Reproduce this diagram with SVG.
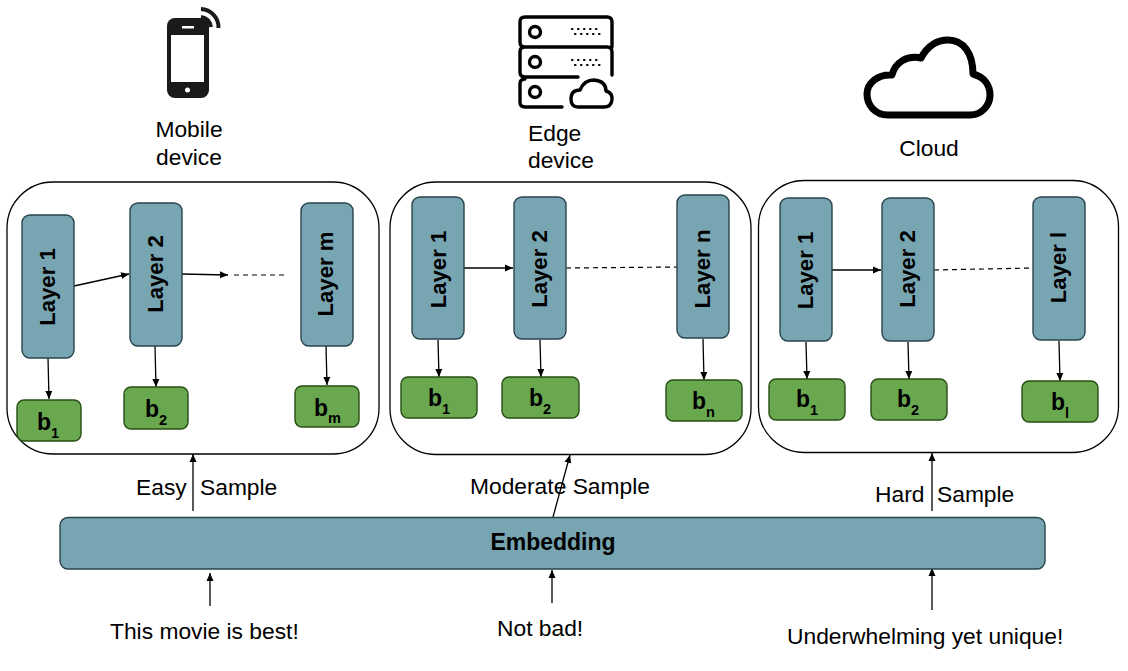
<svg xmlns="http://www.w3.org/2000/svg" width="1128" height="671" viewBox="0 0 1128 671">
<defs>
<marker id="a" markerWidth="9" markerHeight="8" refX="8" refY="4" orient="auto" markerUnits="userSpaceOnUse"><path d="M0,0.5 L8,4 L0,7.5 z" fill="#000"/></marker>
</defs>
<style>
text{font-family:"Liberation Sans",Arial,sans-serif;fill:#000}
.lbl{font-size:22.8px}
.c{text-anchor:middle}
.panel{fill:none;stroke:#000;stroke-width:1.3}
.layer{fill:#78a5b2;stroke:#29444c;stroke-width:1.4}
.b{fill:#6aa84f;stroke:#274e13;stroke-width:1.4}
.lt{font-size:22.2px;font-weight:bold;text-anchor:middle}
.bt{font-size:23px;font-weight:bold}
.sub{font-size:14.500px;font-weight:bold}
.con{fill:none;stroke:#000;stroke-width:1.3;marker-end:url(#a)}
.dash{fill:none;stroke:#000;stroke-width:1.2;stroke-dasharray:5 4}
.ico{fill:none;stroke:#000;stroke-linecap:round}
</style>
<rect width="1128" height="671" fill="#fff"/>

<g id="icon-mobile">
<path d="M201,9 A18.500,18.500 0 0 1 218.500,28" fill="none" stroke="#1a1a1a" stroke-width="4"/>
<path d="M201,17 A11,11 0 0 1 211,27" fill="none" stroke="#1a1a1a" stroke-width="4"/>
<rect x="167" y="18" width="42" height="80" rx="8" fill="#1a1a1a"/>
<rect x="171" y="35" width="33" height="47" fill="#fff"/>
<rect x="182" y="26" width="12" height="2.500" fill="#fff"/>
<circle cx="187.500" cy="90" r="2.500" fill="#fff"/>
</g>
<g id="icon-edge" class="ico" stroke-width="3.400">
<path d="M612,47 V22 Q612,17 607,17 H525 Q520,17 520,22 V42 Q520,47 525,47 H607 Q612,47 612,52 V75 M578,77 H525 Q520,77 520,72 V52 Q520,47 525,47"/>
<path d="M525,79 Q520,79 520,84 V102 Q520,107 525,107 H562"/>
<circle cx="535" cy="32" r="5.500"/><circle cx="535" cy="62" r="5.500"/><circle cx="535" cy="92" r="5.500"/>
<path d="M572,29 h28 M575,34 h28 M572,60 h28 M575,65 h28" stroke-width="2.200" stroke-dasharray="0.500 5.500"/>
<path d="M578,107 Q571,107 571,99 Q571,90 580,90 Q584,80 594,80 Q606,81 606,91 Q613,93 612,100 Q611,107 604,107 Z" stroke-linejoin="round"/>
</g>
<g id="icon-cloud">
<path d="M888,115 C875,115 867,105 867,94 C867,83 878,74 892,75 C895,63 906,55 921,58 C927,47 936,40 948,40 C964,40 973,54 973,74 C984,77 990,85 990,95 C990,106 981,115 970,115 Z" fill="none" stroke="#000" stroke-width="7" stroke-linejoin="round"/>
</g>
<text class="lbl c" x="189" y="137">Mobile</text>
<text class="lbl c" x="189" y="165">device</text>
<text class="lbl" x="528" y="141">Edge</text>
<text class="lbl" x="528" y="168">device</text>
<text class="lbl c" x="929" y="156">Cloud</text>

<g id="panel-mobile"><rect class="panel" x="7" y="182" width="372" height="272" rx="46"/></g>
<g id="panel-edge"><rect class="panel" x="390" y="182" width="361" height="272.500" rx="46"/></g>
<g id="panel-cloud"><rect class="panel" x="758.500" y="180.500" width="360" height="272" rx="46"/></g>

<g id="connectors">
<path class="con" d="M74,286 L129,274"/>
<path class="con" d="M182,274 L228,275"/>
<path class="dash" d="M234,275 H284"/>
<path class="con" d="M48,358 L49,399"/>
<path class="con" d="M155,346 L156,387"/>
<path class="con" d="M326,346 L327,385"/>
<path class="con" d="M464,268 L513,268"/>
<path class="dash" d="M566,268 L677,267"/>
<path class="con" d="M438,340 L439,377"/>
<path class="con" d="M540,340 L541,377"/>
<path class="con" d="M703,339 L704,380"/>
<path class="con" d="M832,270 L881,270"/>
<path class="dash" d="M934,270 L1033,268"/>
<path class="con" d="M806,342 L807,379"/>
<path class="con" d="M908,342 L909,379"/>
<path class="con" d="M1059,341 L1060,381"/>
<path class="con" d="M193,511 V454"/>
<path class="con" d="M553,517 L570,455"/>
<path class="con" d="M932,511 V453"/>
<path class="con" d="M210,606 V573"/>
<path class="con" d="M552,603 V570"/>
<path class="con" d="M932,610 V568"/>
</g>

<g id="layer1-m"><rect class="layer" x="22" y="215" width="52" height="143" rx="8"/><text class="lt" transform="translate(55,287) rotate(-90)">Layer 1</text></g>
<g id="layer2-m"><rect class="layer" x="130" y="203" width="52" height="143" rx="8"/><text class="lt" transform="translate(163,274) rotate(-90)">Layer 2</text></g>
<g id="layerm-m"><rect class="layer" x="301" y="203" width="52" height="143" rx="8"/><text class="lt" transform="translate(333,274) rotate(-90)">Layer m</text></g>
<g id="b1-m"><rect class="b" x="17" y="400" width="64" height="41" rx="7"/><text class="bt" x="37" y="430">b<tspan class="sub" dy="8">1</tspan></text></g>
<g id="b2-m"><rect class="b" x="124" y="387" width="64" height="42" rx="7"/><text class="bt" x="145" y="417">b<tspan class="sub" dy="8">2</tspan></text></g>
<g id="bm-m"><rect class="b" x="295" y="386" width="64" height="41" rx="7"/><text class="bt" x="314" y="416">b<tspan class="sub" dy="7">m</tspan></text></g>

<g id="layer1-e"><rect class="layer" x="412" y="197" width="52" height="142" rx="8"/><text class="lt" transform="translate(446,269.500) rotate(-90)">Layer 1</text></g>
<g id="layer2-e"><rect class="layer" x="514" y="197" width="52" height="142" rx="8"/><text class="lt" transform="translate(547,269) rotate(-90)">Layer 2</text></g>
<g id="layern-e"><rect class="layer" x="677" y="195" width="52" height="143" rx="8"/><text class="lt" transform="translate(710,269) rotate(-90)">Layer n</text></g>
<g id="b1-e"><rect class="b" x="401" y="377" width="76" height="41" rx="7"/><text class="bt" x="428" y="406">b<tspan class="sub" dy="8">1</tspan></text></g>
<g id="b2-e"><rect class="b" x="502" y="377" width="77" height="41" rx="7"/><text class="bt" x="529" y="406">b<tspan class="sub" dy="8">2</tspan></text></g>
<g id="bn-e"><rect class="b" x="666" y="380" width="76" height="41" rx="7"/><text class="bt" x="692" y="409">b<tspan class="sub" dy="8">n</tspan></text></g>

<g id="layer1-c"><rect class="layer" x="780" y="198" width="52" height="143" rx="8"/><text class="lt" transform="translate(813,270.500) rotate(-90)">Layer 1</text></g>
<g id="layer2-c"><rect class="layer" x="882" y="198" width="52" height="143" rx="8"/><text class="lt" transform="translate(915,269) rotate(-90)">Layer 2</text></g>
<g id="layerl-c"><rect class="layer" x="1033" y="197" width="52" height="143" rx="8"/><text class="lt" transform="translate(1066,267.500) rotate(-90)">Layer l</text></g>
<g id="b1-c"><rect class="b" x="769" y="379" width="76" height="41" rx="7"/><text class="bt" x="796" y="407">b<tspan class="sub" dy="8">1</tspan></text></g>
<g id="b2-c"><rect class="b" x="871" y="379" width="76" height="41" rx="7"/><text class="bt" x="897" y="407">b<tspan class="sub" dy="8">2</tspan></text></g>
<g id="bl-c"><rect class="b" x="1022" y="381" width="76" height="41" rx="7"/><text class="bt" x="1051" y="410">b<tspan class="sub" dy="8">l</tspan></text></g>

<g id="embedding"><rect class="layer" x="60" y="517.500" width="985" height="51.500" rx="8"/><text x="553" y="550" font-size="23" font-weight="bold" text-anchor="middle">Embedding</text></g>

<text class="lbl" x="136" y="495">Easy</text>
<text class="lbl" x="200" y="495">Sample</text>
<text class="lbl" x="470" y="494">Moderate Sample</text>
<text class="lbl" x="875" y="502">Hard</text>
<text class="lbl" x="937" y="502">Sample</text>
<text class="lbl" x="110" y="639">This movie is best!</text>
<text class="lbl" x="497" y="636">Not bad!</text>
<text class="lbl" x="787" y="644">Underwhelming yet unique!</text>
</svg>
